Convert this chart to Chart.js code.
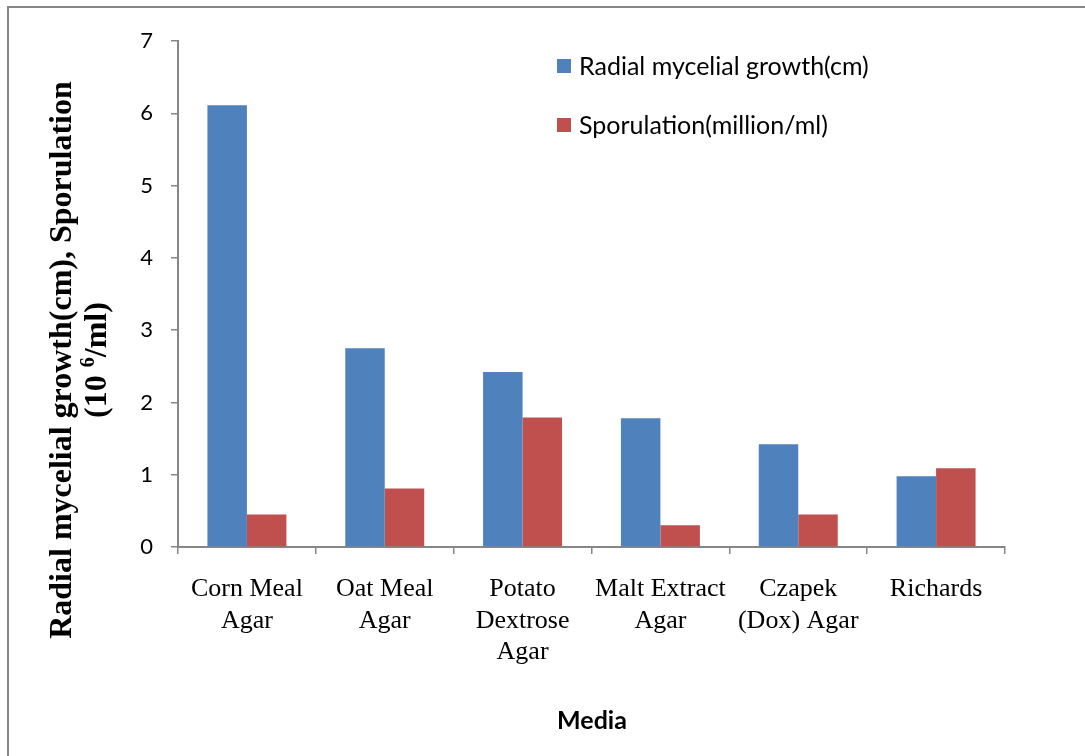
<!DOCTYPE html>
<html>
<head>
<meta charset="utf-8">
<script src="https://cdn.jsdelivr.net/npm/chart.js@4.4.1/dist/chart.umd.min.js"></script>
<style>
  html, body { margin: 0; padding: 0; background: #ffffff; }
  #wrap { width: 1085px; height: 756px; position: relative; }
</style>
</head>
<body>
<div id="wrap"><canvas id="c" width="1085" height="756"></canvas></div>
<script>
// Culture media tested (multi-line category labels)
const media = [
  ["Corn Meal", "Agar"],
  ["Oat Meal", "Agar"],
  ["Potato", "Dextrose", "Agar"],
  ["Malt Extract", "Agar"],
  ["Czapek", "(Dox) Agar"],
  ["Richards"]
];
// Radial mycelial growth (cm)
const radialGrowth = [6.11, 2.75, 2.42, 1.78, 1.42, 0.98];
// Sporulation (million/ml)
const sporulation = [0.45, 0.81, 1.79, 0.30, 0.45, 1.09];
// Value axis range
const yMin = 0, yMax = 7, yStep = 1;

const seriesNames = ["Radial mycelial growth(cm)", "Sporulation(million/ml)"];
const seriesColors = ["#4F81BD", "#C0504D"];
const axisGray = "#868686";

// Frame, axis titles and legend drawn on top of the chart
const decorations = {
  id: "decorations",
  afterDraw(chart) {
    const ctx = chart.ctx;
    ctx.save();

    // outer frame (top and left edges)
    ctx.strokeStyle = axisGray;
    ctx.lineWidth = 2;
    ctx.beginPath();
    ctx.moveTo(8, 756);
    ctx.lineTo(8, 7);
    ctx.lineTo(1085, 7);
    ctx.stroke();

    // legend
    ctx.font = "25px Lato";
    ctx.textBaseline = "middle";
    ctx.textAlign = "left";
    chart.data.datasets.forEach((ds, i) => {
      const y = 66 + i * 59;
      ctx.fillStyle = ds.backgroundColor;
      ctx.fillRect(557, y - 7, 14, 14);
      ctx.fillStyle = "#000";
      ctx.fillText(ds.label, 579, y + 1);
    });

    // x axis title
    ctx.font = "bold 25px Lato";
    ctx.textAlign = "center";
    ctx.fillStyle = "#000";
    ctx.fillText("Media", 592, 721);

    // y axis title (rotated, two lines, with superscript)
    ctx.translate(63, 360);
    ctx.rotate(-Math.PI / 2);
    const big = "bold 32px 'Liberation Serif'";
    const small = "bold 20px 'Liberation Serif'";
    ctx.font = big;
    ctx.textAlign = "center";
    ctx.textBaseline = "middle";
    ctx.fillText("Radial mycelial growth(cm), Sporulation", 0, 0);

    const partA = "(10 ", partSup = "6", partB = "/ml)";
    ctx.font = big;
    const wA = ctx.measureText(partA).width;
    const wB = ctx.measureText(partB).width;
    ctx.font = small;
    const wS = ctx.measureText(partSup).width;
    const total = wA + wS + wB;
    let x = -total / 2;
    const y2 = 35;
    ctx.textAlign = "left";
    ctx.font = big;
    ctx.fillText(partA, x, y2);
    x += wA;
    ctx.font = small;
    ctx.fillText(partSup, x, y2 - 9);
    x += wS;
    ctx.font = big;
    ctx.fillText(partB, x, y2);

    ctx.restore();
  }
};

new Chart(document.getElementById("c"), {
  type: "bar",
  data: {
    labels: media,
    datasets: [
      { label: seriesNames[0], data: radialGrowth, backgroundColor: seriesColors[0] },
      { label: seriesNames[1], data: sporulation, backgroundColor: seriesColors[1] }
    ]
  },
  options: {
    responsive: false,
    animation: false,
    devicePixelRatio: 1,
    layout: { padding: { left: 118, right: 80, top: 41, bottom: 89 } },
    datasets: { bar: { categoryPercentage: 0.573, barPercentage: 1.0, borderWidth: 0 } },
    plugins: {
      legend: { display: false },
      tooltip: { enabled: false }
    },
    scales: {
      x: {
        afterFit(scale) { scale.height = 120; },
        grid: {
          display: true, offset: true, drawOnChartArea: false, drawTicks: true,
          tickLength: 7, color: axisGray, lineWidth: 1.5
        },
        border: { display: true, color: axisGray, width: 2 },
        ticks: {
          color: "#000",
          padding: 20,
          maxRotation: 0,
          autoSkip: false,
          font: { family: "'Liberation Serif'", size: 26, lineHeight: 1.2 }
        }
      },
      y: {
        min: yMin, max: yMax,
        afterFit(scale) { scale.width = 60; },
        grid: {
          display: true, drawOnChartArea: false, drawTicks: true,
          tickLength: 7, color: axisGray, lineWidth: 1.5
        },
        border: { display: true, color: axisGray, width: 2 },
        ticks: {
          stepSize: yStep,
          color: "#000",
          padding: 18,
          font: { family: "Lato", size: 22 }
        }
      }
    }
  },
  plugins: [decorations]
});
</script>
</body>
</html>
